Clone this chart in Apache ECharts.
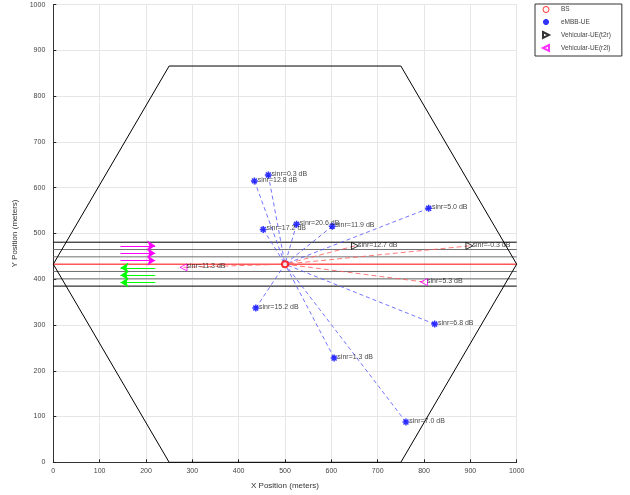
<!DOCTYPE html>
<html>
<head>
<meta charset="utf-8">
<script src="https://cdn.jsdelivr.net/npm/echarts@6/dist/echarts.min.js"></script>
<style>html,body{margin:0;padding:0;background:#fff}#c{width:630px;height:495px}</style>
</head>
<body>
<div id="c"></div>
<script>
// ---- data ----
const bsPos = [500, 433];
const hexX = [250, 750, 1000, 750, 250, 0, 250];
const hexY = [0, 0, 433, 866, 866, 433, 0];
const laneY = [385, 401, 417, 433, 449, 465, 481];
const embbX = [464, 434, 453, 525, 602, 810, 437, 606, 823, 761];
const embbY = [628, 615, 509, 520, 516, 555, 337, 228, 302, 88];
const embbSinr = [0.3, 12.8, 17.2, 20.6, 11.9, 5.0, 15.2, 1.3, 6.8, 7.0];
const t2rX = [651, 898];
const t2rY = [473, 473];
const t2rSinr = [12.7, -0.3];
const r2lX = [281, 800];
const r2lY = [426, 394];
const r2lSinr = [11.3, 5.3];
const arrowRightY = [473, 457, 441];
const arrowLeftY = [425, 409, 393];
const arrowX = [145, 220];
const xTicks = [0, 1000, 100];
const yTicks = [0, 1000, 100];

// ---- build ----
const FONT = 'Liberation Sans, Arial, sans-serif';
const lbl = v => 'sinr=' + v.toFixed(1) + ' dB';
const ptData = (xs, ys, ss) => xs.map((x, i) => ({ value: [x, ys[i]], name: lbl(ss[i]) }));
const toBS = (xs, ys) => xs.map((x, i) => ({ coords: [[x, ys[i]], bsPos] }));

const series = [];
laneY.forEach((y, i) => {
  const color = (i === 0 || i === laneY.length - 1) ? '#000' : (y === bsPos[1] ? '#ff0000' : '#707070');
  series.push({
    type: 'line', data: [[0, y], [1000, y]], showSymbol: false, silent: true,
    lineStyle: { color: color, width: 1 }, z: 2
  });
});
series.push({
  type: 'line', data: hexX.map((x, i) => [x, hexY[i]]), showSymbol: false, silent: true,
  lineStyle: { color: '#000', width: 1 }, z: 2
});
series.push({
  type: 'lines', coordinateSystem: 'cartesian2d', data: toBS(embbX, embbY), silent: true,
  lineStyle: { color: '#5050ff', width: 0.8, type: [4, 3], opacity: 1 }, z: 3
});
series.push({
  type: 'lines', coordinateSystem: 'cartesian2d',
  data: toBS(t2rX, t2rY).concat(toBS(r2lX, r2lY)), silent: true,
  lineStyle: { color: '#ff5a5a', width: 0.8, type: [5, 3], opacity: 1 }, z: 3
});
series.push({
  type: 'lines', coordinateSystem: 'cartesian2d', silent: true,
  data: arrowRightY.map(y => ({ coords: [[arrowX[0], y], [arrowX[1], y]] })),
  symbol: ['none', 'arrow'], symbolSize: 8,
  lineStyle: { color: '#ff00ff', width: 1, opacity: 1 }, z: 4
});
series.push({
  type: 'lines', coordinateSystem: 'cartesian2d', silent: true,
  data: arrowLeftY.map(y => ({ coords: [[arrowX[1], y], [arrowX[0], y]] })),
  symbol: ['none', 'arrow'], symbolSize: 8,
  lineStyle: { color: '#00ff00', width: 1, opacity: 1 }, z: 4
});
const labelCfg = {
  show: true, position: 'right', distance: -1, formatter: '{b}',
  fontSize: 7, color: '#111', fontFamily: FONT, offset: [0, -1]
};
series.push({
  name: 'BS', type: 'scatter', data: [bsPos], symbol: 'emptyCircle', symbolSize: 6,
  itemStyle: { color: '#ff0000', borderColor: '#ff0000', borderWidth: 0.8 }, z: 6
});
series.push({
  name: 'eMBB-UE', type: 'scatter', data: ptData(embbX, embbY, embbSinr),
  symbol: 'path://M5,0L5,10M0,5L10,5M1.5,1.5L8.5,8.5M1.5,8.5L8.5,1.5', symbolSize: 7,
  itemStyle: { color: '#0000ff', borderColor: '#0000ff', borderWidth: 1.5 },
  label: labelCfg, z: 6
});
series.push({
  name: 'Vehicular-UE(t2r)', type: 'scatter', data: ptData(t2rX, t2rY, t2rSinr),
  symbol: 'path://M0,0L10,5L0,10Z', symbolSize: 7,
  itemStyle: { color: 'rgba(255,255,255,0)', borderColor: '#000', borderWidth: 1 },
  label: labelCfg, z: 6
});
series.push({
  name: 'Vehicular-UE(r2l)', type: 'scatter', data: ptData(r2lX, r2lY, r2lSinr),
  symbol: 'path://M10,0L0,5L10,10Z', symbolSize: 7,
  itemStyle: { color: 'rgba(255,255,255,0)', borderColor: '#ff00ff', borderWidth: 1 },
  label: labelCfg, z: 6
});

const axisCommon = (name, ticks, isY) => ({
  type: 'value', min: ticks[0], max: ticks[1], interval: ticks[2],
  name: name, nameLocation: 'middle', nameGap: isY ? 34 : 19,
  nameTextStyle: { fontSize: 8, color: '#333', fontFamily: FONT },
  axisLine: { show: true, onZero: false, lineStyle: { color: '#333', width: 1 } },
  axisTick: { show: true, inside: true, length: 3, lineStyle: { color: '#222' } },
  axisLabel: { fontSize: 7, color: '#444', fontFamily: FONT, margin: isY ? 8 : 5,
    formatter: v => String(v) },
  splitLine: { show: true, lineStyle: { color: '#e6e6e6', width: 1 } }
});

const option = {
  animation: false,
  backgroundColor: '#fff',
  grid: { left: 53.3, right: 113.3, top: 4.7, bottom: 32.7, containLabel: false },
  xAxis: axisCommon('X Position (meters)', xTicks, false),
  yAxis: axisCommon('Y Position (meters)', yTicks, true),
  legend: {
    data: [
      { name: 'BS', icon: 'circle', itemStyle: { color: 'rgba(255,255,255,0)', borderColor: '#ff0000', borderWidth: 1 } },
      'eMBB-UE', 'Vehicular-UE(t2r)', 'Vehicular-UE(r2l)'
    ],
    orient: 'vertical', left: 535, top: 4,
    itemWidth: 20, itemHeight: 6, itemGap: 5,
    padding: [2, 11, 4, 7],
    borderColor: '#333', borderWidth: 1, backgroundColor: '#fff',
    textStyle: { fontSize: 6.5, color: '#444', fontFamily: FONT },
    selectedMode: false
  },
  series: series
};
const chart = echarts.init(document.getElementById('c'), null, { renderer: 'canvas' });
chart.setOption(option);
</script>
</body>
</html>
